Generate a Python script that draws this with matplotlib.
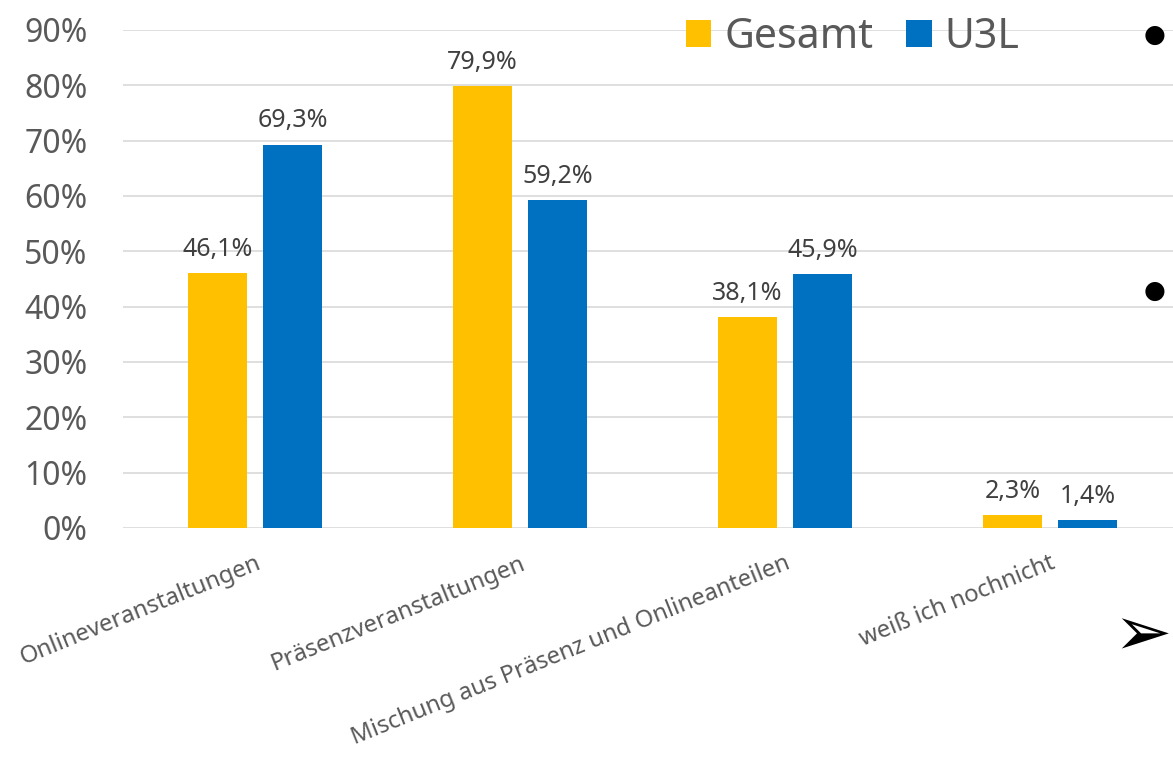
import matplotlib.pyplot as plt
import numpy as np

# Data
categories = ['Onlineveranstaltungen', 'Präsenzveranstaltungen',
              'Mischung aus Präsenz und Onlineanteilen', 'weiß ich nochnicht']
gesamt = [46.1, 79.9, 38.1, 2.3]
u3l = [69.3, 59.2, 45.9, 1.4]
series_names = ['Gesamt', 'U3L']
y_ticks = [0, 10, 20, 30, 40, 50, 60, 70, 80, 90]

plt.rcParams['font.family'] = ['Noto Sans', 'DejaVu Sans']

fig = plt.figure(figsize=(11.73, 7.57), dpi=100)
ax = fig.add_axes([122.5 / 1173, 229 / 757, 1060 / 1173, 498 / 757])

x = np.arange(len(categories))
w = 0.223
off = 0.1415
b1 = ax.bar(x - off, gesamt, w, color='#FFC000', label=series_names[0], zorder=3)
b2 = ax.bar(x + off, u3l, w, color='#0070C0', label=series_names[1], zorder=3)

for bars, vals in ((b1, gesamt), (b2, u3l)):
    for rect, v in zip(bars, vals):
        ax.annotate(f'{v:.1f}%'.replace('.', ','),
                    (rect.get_x() + rect.get_width() / 2, v),
                    xytext=(0, 8), textcoords='offset points',
                    ha='center', va='bottom', fontsize=18, color='#404040')

ax.set_xlim(-0.5, 3.5)
ax.set_ylim(0, 90)
ax.set_yticks(y_ticks)
ax.set_yticklabels([f'{t}%' for t in y_ticks], fontsize=23, color='#595959')
ax.tick_params(axis='y', length=0, pad=25)
ax.tick_params(axis='x', length=0, pad=17)
ax.set_xticks(x)
ax.set_xticklabels(categories, rotation=22, ha='right', va='top',
                   rotation_mode='anchor', fontsize=17.2, color='#595959')
ax.grid(axis='y', color='#D9D9D9', linewidth=1.2, zorder=0)
for s in ax.spines.values():
    s.set_visible(False)

fig.legend(loc='center left', bbox_to_anchor=(686 / 1173, 1 - 37 / 757),
           ncol=2, frameon=False, fontsize=29.5, labelcolor='#595959',
           handlelength=0.62, handleheight=0.62, handletextpad=0.32,
           columnspacing=0.8, borderpad=0, borderaxespad=0)

# stray slide bullets at the right edge
fig.text(1155 / 1173, 1 - 35 / 757, '●', fontsize=18, ha='center', va='center',
         family='DejaVu Sans')
fig.text(1155 / 1173, 1 - 291 / 757, '●', fontsize=18, ha='center', va='center',
         family='DejaVu Sans')
fig.text(1172 / 1173, 1 - 636 / 757, '➢', fontsize=50, ha='right', va='center',
         family='DejaVu Sans')

plt.savefig('out.png', dpi=100)
